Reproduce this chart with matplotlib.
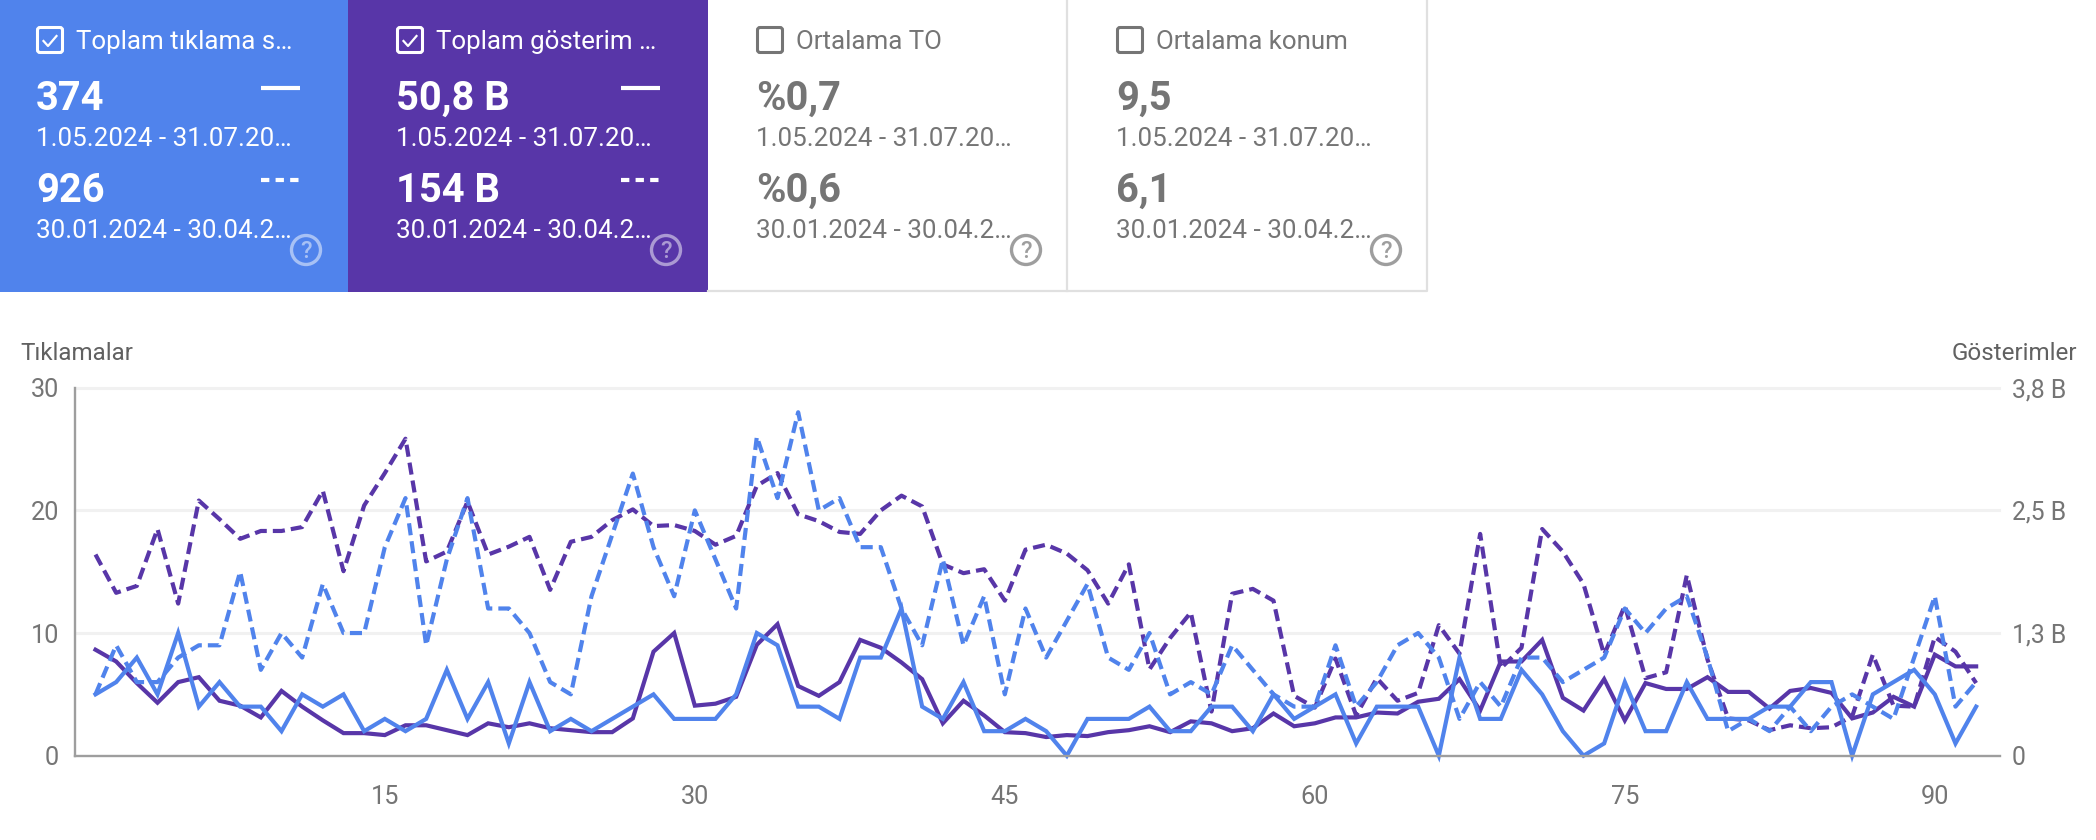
import matplotlib
matplotlib.use("Agg")
import matplotlib.pyplot as plt
from matplotlib.patches import Rectangle, FancyBboxPatch, Circle

plt.rcParams["font.family"] = ["Roboto", "DejaVu Sans"]

BLUE = "#5083EC"
PURPLE = "#5836A8"
GREY = "#757575"

days = list(range(1, 93))

clicks = [5, 6, 8, 5, 10, 4, 6, 4, 4, 2, 5, 4, 5, 2, 3, 2, 3, 7, 3, 6, 1, 6, 2, 3, 2, 3, 4, 5, 3, 3,
          3, 5, 10, 9, 4, 4, 3, 8, 8, 12, 4, 3, 6, 2, 2, 3, 2, 0, 3, 3, 3, 4, 2, 2, 4, 4, 2, 5, 3, 4,
          5, 1, 4, 4, 4, 0, 8, 3, 3, 7, 5, 2, 0, 1, 6, 2, 2, 6, 3, 3, 3, 4, 4, 6, 6, 0, 5, 6, 7, 5, 1, 4]
clicks_prev = [5, 9, 6, 6, 8, 9, 9, 15, 7, 10, 8, 14, 10, 10, 17, 21, 9, 16, 21, 12, 12, 10, 6, 5, 13, 18, 23, 17, 13, 20,
               16, 12, 26, 21, 28, 20, 21, 17, 17, 12, 9, 16, 9, 13, 5, 12, 8, 11, 14, 8, 7, 10, 5, 6, 5, 9, 7, 5, 4, 4,
               9, 4, 6, 9, 10, 8, 3, 6, 4, 8, 8, 6, 7, 8, 12, 10, 12, 13, 8, 2, 3, 2, 4, 2, 4, 5, 4, 3, 8, 13, 4, 6]

# gosterim, B (bin)
impr = [1.08, .96, .74, .54, .75, .80, .56, .51, .39, .66, .50, .36, .23, .23, .21, .31, .31, .26, .21, .33,
        .29, .33, .28, .26, .24, .24, .38, 1.06, 1.25, .51, .53, .60, 1.13, 1.34, .71, .61, .75, 1.18, 1.10, .95,
        .78, .33, .56, .41, .24, .23, .19, .21, .20, .24, .26, .30, .24, .35, .33, .25, .28, .43, .30, .33,
        .39, .39, .44, .43, .55, .58, .78, .46, .96, .96, 1.18, .59, .46, .78, .36, .74, .68, .68, .80, .65,
        .65, .48, .66, .69, .64, .38, .44, .60, .50, 1.03, .91, .91]
impr_prev = [2.05, 1.66, 1.73, 2.31, 1.55, 2.60, 2.41, 2.21, 2.29, 2.29, 2.33, 2.70, 1.88, 2.55, 2.88, 3.23, 1.98, 2.08, 2.59, 2.05,
             2.13, 2.23, 1.69, 2.18, 2.23, 2.40, 2.51, 2.34, 2.35, 2.29, 2.15, 2.24, 2.75, 2.88, 2.46, 2.39, 2.28, 2.26, 2.50, 2.65,
             2.54, 1.95, 1.86, 1.90, 1.58, 2.10, 2.15, 2.06, 1.89, 1.55, 1.95, .88, 1.20, 1.46, .45, 1.65, 1.70, 1.58, .61, .49,
             .99, .41, .79, .56, .64, 1.33, 1.04, 2.26, .89, 1.10, 2.31, 2.08, 1.75, 1.03, 1.53, .79, .85, 1.84, .98, .38,
             .36, .26, .31, .28, .29, .40, 1.03, .51, .50, 1.21, 1.06, .74]

x_ticks = [15, 30, 45, 60, 75, 90]
left_ticks = [0, 10, 20, 30]
right_ticks = [0, 1.25, 2.5, 3.75]
right_labels = ["0", "1,3 B", "2,5 B", "3,8 B"]

card_titles = ["Toplam tıklama s…", "Toplam gösterim …", "Ortalama TO", "Ortalama konum"]
card_now = ["374", "50,8 B", "%0,7", "9,5"]
card_prev = ["926", "154 B", "%0,6", "6,1"]
date_now = "1.05.2024 - 31.07.20…"
date_prev = "30.01.2024 - 30.04.2…"

W, H = 2096, 840
fig = plt.figure(figsize=(W / 100, H / 100), dpi=100, facecolor="white")

# chart, positions in px
L, R, T, B = 74.5, 1999.5, 387.7, 755.7
ax = fig.add_axes([L / W, 1 - B / H, (R - L) / W, (B - T) / H])
ax2 = ax.twinx()
ax.set_zorder(2)
ax.patch.set_visible(False)

DASH = (0, (2.9, 1.45))
ax2.plot(days, impr_prev, color=PURPLE, lw=3.0, ls=DASH)
ax2.plot(days, impr, color=PURPLE, lw=3.0, solid_joinstyle="miter")
ax.plot(days, clicks_prev, color=BLUE, lw=3.0, ls=DASH, clip_on=False)
ax.plot(days, clicks, color=BLUE, lw=3.0, solid_joinstyle="miter", clip_on=False)

ax.set_xlim(-0.016, 93.13)
ax.set_ylim(0, 30)
ax2.set_ylim(0, 3.75)
ax.set_xticks(x_ticks)
ax.set_yticks(left_ticks)
ax2.set_yticks(right_ticks)
ax2.set_yticklabels(right_labels)

ax2.grid(False)
ax2.set_axisbelow(True)
for v in right_ticks[1:]:
    ax2.axhline(v, color="#F1F1F1", lw=2.2, zorder=0, clip_on=False)

for a in (ax, ax2):
    for s in ("top", "right", "left", "bottom"):
        a.spines[s].set_visible(False)
ax.spines["left"].set_visible(True)
ax.spines["bottom"].set_visible(True)
ax.spines["left"].set_color("#9E9E9E")
ax.spines["bottom"].set_color("#9E9E9E")
ax.spines["left"].set_linewidth(1.7)
ax.spines["bottom"].set_linewidth(1.7)

ax.tick_params(axis="x", length=0, pad=21, labelsize=18.2, labelcolor=GREY)
ax.tick_params(axis="y", length=0, pad=11, labelsize=18.2, labelcolor=GREY)
ax2.tick_params(axis="y", length=0, pad=9, labelsize=17.8, labelcolor=GREY)

# overlay in px for the cards and axis titles
ov = fig.add_axes([0, 0, 1, 1], zorder=5)
ov.set_xlim(0, W)
ov.set_ylim(H, 0)
ov.axis("off")

ov.text(20, 354, "Tıklamalar", color="#616161", fontsize=17.4, va="center", ha="left")
ov.text(2077.5, 354, "Gösterimler", color="#616161", fontsize=17.4, va="center", ha="right")

# card backgrounds
ov.add_patch(Rectangle((0, 0), 348, 292, fc=BLUE, ec="none"))
ov.add_patch(Rectangle((348, 0), 360, 292, fc=PURPLE, ec="none"))
ov.plot([708, 1427, 1427], [291, 291, 0], color="#E0E0E0", lw=1.6)
ov.plot([1067, 1067], [0, 291], color="#E0E0E0", lw=1.6)

for i in range(4):
    dx = 360 * i
    active = i < 2
    col = "white" if active else GREY
    ov.add_patch(FancyBboxPatch((37.5 + dx, 27.5), 25, 25, boxstyle="round,pad=0,rounding_size=2.5",
                                fc="none", ec=col, lw=2.2))
    if active:
        ov.plot([43.5 + dx, 48 + dx, 56.5 + dx], [41, 46, 36], color="white", lw=1.6)
    ov.text(76 + dx, 42, card_titles[i], color=col, fontsize=18.6, va="center", ha="left")
    ov.text(36 + dx, 98.5, card_now[i], color=col, fontsize=28.7, fontweight="bold", va="center", ha="left")
    ov.text(36 + dx, 138.5, date_now, color=col, fontsize=18.7, va="center", ha="left")
    ov.text(36 + dx, 190.5, card_prev[i], color=col, fontsize=28.7, fontweight="bold", va="center", ha="left")
    ov.text(36 + dx, 230.5, date_prev, color=col, fontsize=18.7, va="center", ha="left")
    if active:
        ov.plot([261 + dx, 300 + dx], [87.7, 87.7], color="white", lw=3, solid_capstyle="butt")
        ov.plot([261 + dx, 299 + dx], [180, 180], color="white", lw=3, ls=(0, (2.0, 1.5)), dash_capstyle="butt")
    # help icon
    ic = "#FFFFFF" if active else "#9E9E9E"
    al = 0.5 if active else 1
    ov.add_patch(Circle((306 + dx, 250), 14.5, fc="none", ec=ic, lw=2.4, alpha=al))
    ov.text(306 + dx, 251, "?", color=ic, alpha=al, fontsize=17, fontweight="medium", va="center", ha="center")

fig.savefig("out.png", dpi=100)
